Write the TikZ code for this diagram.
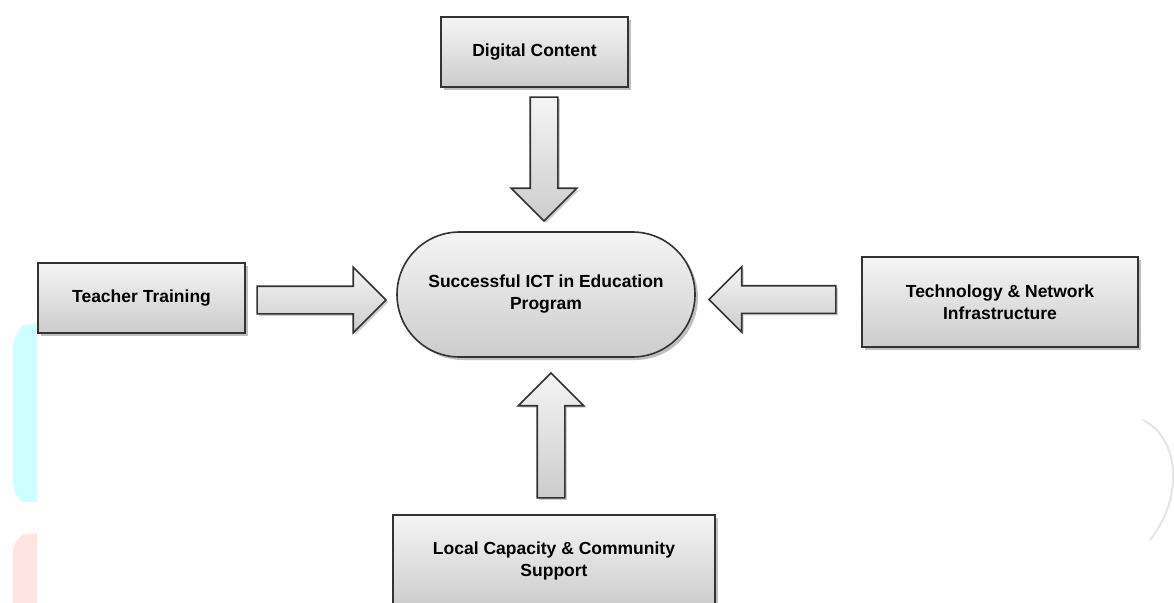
\documentclass[tikz,border=0pt]{standalone}
\usepackage{fontspec}
\setmainfont{Liberation Sans}
\usetikzlibrary{positioning, calc, shapes.misc, shapes.arrows, shadows}

\definecolor{markcyan}{RGB}{206,255,255}
\definecolor{markpink}{RGB}{255,228,228}

\tikzset{
    box/.style={draw=black!80, line width=1.6pt, top color=black!4, bottom color=black!20,
        drop shadow={shadow xshift=3pt, shadow yshift=-3pt, fill=black, opacity=0.25},
        align=center, inner sep=0pt, font=\fontsize{17.5}{22}\selectfont\bfseries},
    hub/.style={box, rounded rectangle},
    bigarrow/.style={single arrow, draw=black!80, line width=1.6pt, top color=black!4, bottom color=black!20,
        drop shadow={shadow xshift=2pt, shadow yshift=-2pt, fill=black, opacity=0.2},
        inner xsep=0pt, inner ysep=13pt, minimum width=0pt, single arrow head extend=19pt, anchor=tip},
    vbigarrow/.style={bigarrow, inner xsep=13pt, inner ysep=0pt}
}

\begin{document}
\begin{tikzpicture}[x=1pt, y=-1pt]
        \clip (0,0) rectangle (1174,602);
        \useasboundingbox (0,0) rectangle (1174,602);

        % faint marks at the page edges
        \fill[markcyan] (37,323) -- (22,326) .. controls (13,340) .. (13,360) -- (13,470) .. controls (13,490) .. (22,502) -- (37,502) -- cycle;
        \fill[markpink] (37,533) -- (22,535) .. controls (13,545) .. (13,560) -- (13,610) -- (37,610) -- cycle;
        \draw[black!10, line width=2pt] (1143,420) .. controls (1182,440) and (1182,500) .. (1150,540);

        \node[hub, minimum width=298pt, minimum height=125pt] (prog) at (546,294.5) {Successful ICT in Education\\Program};
        \node[box, minimum width=187pt, minimum height=70pt] (content) at (534.5,52) {Digital Content};
        \node[box, minimum width=207pt, minimum height=70pt] (teacher) at (141.5,298) {Teacher Training};
        \node[box, minimum width=276pt, minimum height=90pt] (tech) at (1000,302) {Technology \& Network\\Infrastructure};
        \node[box, minimum width=322pt, minimum height=92pt] (local) at (554,561) {Local Capacity \& Community\\Support};

        \node[vbigarrow, shape border rotate=270, minimum height=124pt] (a1) at ([xshift=-2pt, yshift=9pt]prog.north) {};
        \node[bigarrow, minimum height=129pt] (a2) at ([xshift=-9pt, yshift=-5.5pt]prog.west) {};
        \node[bigarrow, shape border rotate=180, minimum height=127pt] (a3) at ([xshift=12pt, yshift=-5pt]prog.east) {};
        \node[vbigarrow, shape border rotate=90, minimum height=125pt] (a4) at ([xshift=5pt, yshift=-14pt]prog.south) {};
    \end{tikzpicture}
\end{document}
